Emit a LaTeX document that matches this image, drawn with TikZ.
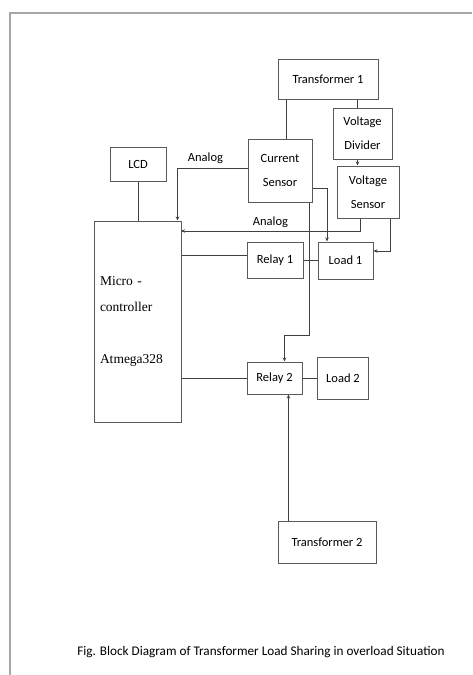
\documentclass[tikz,border=0pt]{standalone}
\usepackage{fontspec}
\setmainfont{Carlito}
\newfontfamily\timesfont{Liberation Serif}
\usepackage{tikz}
\usetikzlibrary{positioning,arrows.meta}

\begin{document}
\begin{tikzpicture}[x=1pt,y=-1pt,>={Stealth[length=4pt,width=3.5pt]},line width=0.8pt,color=black!75]
        \tikzstyle{every node}=[font=\fontsize{12.5}{24}\selectfont,text=black]
        \tikzstyle{block}=[draw=black!65,line width=1pt,inner sep=1pt,align=center]
        \useasboundingbox (0,0) rectangle (472,675);
        \draw[black!35,line width=2pt] (10,675) -- (10,13) -- (472,13);
        % blocks
        \node[block,minimum width=100pt,minimum height=40pt] (Tf1) at (328,79) {Transformer 1};
        \node[block,minimum width=59pt,minimum height=51pt] (VD) at (362.5,133.5) {Voltage\\Divider};
        \node[block,minimum width=64pt,minimum height=63pt] (CS) at (280,170.5) {Current\\Sensor};
        \node[block,minimum width=62pt,minimum height=52pt] (VS) at (368,192) {Voltage\\Sensor};
        \node[block,minimum width=56pt,minimum height=34pt] (LCD) at (138,164) {LCD};
        \node[block,minimum width=87pt,minimum height=201pt,text width=75pt,align=left,
              font=\timesfont\fontsize{13.5}{26}\selectfont] (MC) at (137.5,321.5) {Micro -\\controller\\[26pt]Atmega328};
        \node[block,minimum width=56pt,minimum height=36pt] (Ry1) at (275,260) {Relay 1};
        \node[block,minimum width=55pt,minimum height=37pt] (Ld1) at (345.5,260.5) {Load 1};
        \node[block,minimum width=55pt,minimum height=32pt] (Ry2) at (274.5,378) {Relay 2};
        \node[block,minimum width=51pt,minimum height=42pt] (Ld2) at (343,378) {Load 2};
        \node[block,minimum width=98pt,minimum height=42pt] (Tf2) at (327,542) {Transformer 2};
        \coordinate (an2) at (181,231);
        % connectors
        \draw ([xshift=6pt]CS.north) -- ([xshift=6pt]CS.north |- Tf1.south);
        \draw ([xshift=-5pt]VD.north) -- ([xshift=-5pt]VD.north |- Tf1.south);
        \draw[->] ([xshift=-5pt]VD.south) -- ([xshift=-5pt]VD.south |- VS.north);
        \draw (LCD.south) -- (LCD.south |- MC.north);
        \draw[->] ([yshift=2pt]CS.west) -| node[pos=0.3,above,yshift=1pt] {Analog} ([xshift=-4pt]MC.north east);
        \draw[->] ([xshift=-8pt]VS.south) |- node[pos=0.75,above] {Analog} (an2);
        \draw[->] ([yshift=-17.5pt]CS.east) -| ([xshift=-18.5pt]Ld1.north);
        \draw[->] ([xshift=22pt]VS.south) |- ([yshift=9.5pt]Ld1.east);
        \draw[->] ([xshift=29pt]CS.south) -- ++(0,133) -| ([xshift=10pt]Ry2.north);
        \draw ([yshift=5pt]Ry1.west) -- ([yshift=5pt]Ry1.west -| MC.east);
        \draw (Ry1.east) -- (Ry1.east -| Ld1.west);
        \draw (Ry2.west) -- (Ry2.west -| MC.east);
        \draw (Ry2.east) -- (Ry2.east -| Ld2.west);
        \draw[->] ([xshift=14pt]Ry2.south |- Tf2.north) -- ([xshift=14pt]Ry2.south);
        % caption
        \node[font=\fontsize{13.2}{15}\selectfont] (cap) at (261,652) {Fig. Block Diagram of Transformer Load Sharing in overload Situation};
\end{tikzpicture}
\end{document}
